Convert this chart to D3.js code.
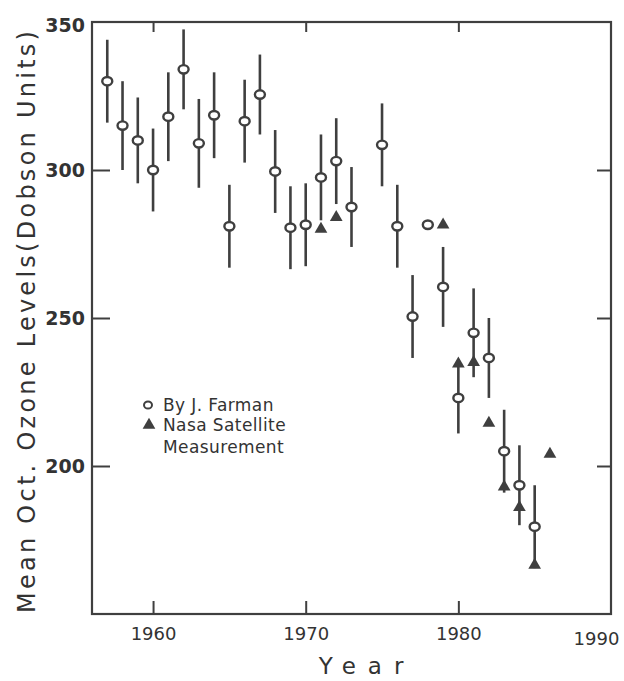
<!DOCTYPE html>
<html>
<head>
<meta charset="utf-8">
<script src="https://cdn.jsdelivr.net/npm/d3@7"></script>
<style>
  body { margin: 0; background: #fff; }
  text { font-family: "DejaVu Sans", sans-serif; }
</style>
</head>
<body>
<div id="chart"></div>
<script>
// Farman ground measurements (circle + error bar)
const farmanYears  = [1957, 1958, 1959, 1960, 1961, 1962, 1963, 1964, 1965, 1966, 1967, 1968, 1969, 1970, 1971, 1972, 1973, 1975, 1976, 1977, 1978, 1979, 1980, 1981, 1982, 1983, 1984, 1985]
const farmanValues = [330, 315, 310, 300, 318, 334, 309, 318.5, 281, 316.5, 325.5, 299.5, 280.5, 281.5, 297.5, 303, 287.5, 308.5, 281, 250.5, 281.5, 260.5, 223, 245, 236.5, 205, 193.5, 179.5]
const farmanErrors = [14, 15, 14.5, 14, 15, 13.5, 15, 14.5, 14, 14, 13.5, 14, 14, 14, 14.5, 14.5, 13.5, 14, 14, 14, 0, 13.5, 12, 15, 13.5, 14, 13.5, 14]

// NASA satellite measurements (triangles)
const nasaYears  = [1971, 1972, 1979, 1980, 1981, 1982, 1983, 1984, 1985, 1986]
const nasaValues = [280, 284, 281.5, 234.5, 235, 214.5, 193, 186, 166.5, 204]

// tick labels
const xTicks = [1960, 1970, 1980, 1990]
const yTicks = [200, 250, 300, 350]

const width = 624
const height = 681
const ink = "#3f3f3f"

// plot box
const plotL = 92, plotR = 611, plotT = 22, plotB = 614

const x = d3.scaleLinear().domain([1956, 1990]).range([plotL, plotR])
const y = d3.scaleLinear().domain([150, 350]).range([plotB, plotT])

const svg = d3.select("#chart")
  .append("svg")
  .attr("width", width)
  .attr("height", height)

svg.append("rect").attr("width", width).attr("height", height).attr("fill", "#fff")

// frame
svg.append("rect")
  .attr("x", plotL).attr("y", plotT)
  .attr("width", plotR - plotL).attr("height", plotB - plotT)
  .attr("fill", "none").attr("stroke", ink).attr("stroke-width", 2.2)

// axes, ticks pointing inward on every side
const yAxis = svg.append("g")
  .attr("transform", `translate(${plotL},0)`)
  .call(d3.axisLeft(y).tickValues(yTicks).tickSize(-18).tickPadding(7).tickFormat(d3.format("d")))
yAxis.select(".domain").remove()
yAxis.selectAll("line").attr("stroke-width", 2)
yAxis.selectAll("text").attr("font-size", 19).attr("font-weight", "bold").attr("fill", "#333")
yAxis.selectAll(".tick").filter(d => d === 350).select("line").remove()
yAxis.selectAll(".tick").filter(d => d === 350).select("text").attr("dy", "0.5em")

const yAxisR = svg.append("g")
  .attr("transform", `translate(${plotR},0)`)
  .call(d3.axisRight(y).tickValues([200, 250, 300]).tickSize(-14).tickFormat(""))
yAxisR.select(".domain").remove()
yAxisR.selectAll("line").attr("stroke-width", 2)

const xAxis = svg.append("g")
  .attr("transform", `translate(0,${plotB})`)
  .call(d3.axisBottom(x).tickValues(xTicks).tickSize(-13).tickPadding(13).tickFormat(d3.format("d")))
xAxis.select(".domain").remove()
xAxis.selectAll("line").attr("stroke-width", 2)
xAxis.selectAll("text").attr("font-size", 18).attr("fill", "#333")
const lastTick = xAxis.selectAll(".tick").filter(d => d === 1990)
lastTick.select("line").remove()
lastTick.select("text").attr("x", -15).attr("y", 18)

const xAxisT = svg.append("g")
  .attr("transform", `translate(0,${plotT})`)
  .call(d3.axisTop(x).tickValues([1960, 1970, 1980]).tickSize(-10).tickFormat(""))
xAxisT.select(".domain").remove()
xAxisT.selectAll("line").attr("stroke-width", 2)

svg.selectAll(".tick line").attr("stroke", ink)

// axis titles
svg.append("text")
  .attr("transform", `translate(35,${(plotT + plotB) / 2 + 4}) rotate(-90)`)
  .attr("text-anchor", "middle")
  .attr("font-size", 24)
  .attr("fill", "#333")
  .attr("textLength", 582)
  .attr("lengthAdjust", "spacing")
  .text("Mean Oct. Ozone Levels(Dobson Units)")

svg.append("text")
  .attr("x", 367).attr("y", 674)
  .attr("text-anchor", "middle")
  .attr("font-size", 23)
  .attr("letter-spacing", 12)
  .attr("fill", "#333")
  .text("Year")

// data
const farman = farmanYears.map((yr, i) => ({year: yr, value: farmanValues[i], err: farmanErrors[i]}))
const nasa = nasaYears.map((yr, i) => ({year: yr, value: nasaValues[i]}))

svg.append("g").selectAll("line")
  .data(farman.filter(d => d.err > 0))
  .enter()
  .append("line")
  .attr("x1", d => x(d.year)).attr("x2", d => x(d.year))
  .attr("y1", d => y(d.value + d.err)).attr("y2", d => y(d.value - d.err))
  .attr("stroke", ink).attr("stroke-width", 2.6)

const tri = d3.symbol().type(d3.symbolTriangle).size(70)

svg.append("g").selectAll("path")
  .data(nasa)
  .enter()
  .append("path")
  .attr("d", tri)
  .attr("transform", d => `translate(${x(d.year)},${y(d.value)})`)
  .attr("fill", ink)

svg.append("g").selectAll("ellipse")
  .data(farman)
  .enter()
  .append("ellipse")
  .attr("cx", d => x(d.year)).attr("cy", d => y(d.value))
  .attr("rx", 5).attr("ry", 4.2)
  .attr("fill", "#fff").attr("stroke", ink).attr("stroke-width", 2.4)

// legend
const legend = svg.append("g").attr("font-size", 17).attr("fill", "#333").attr("letter-spacing", 0.4)
legend.append("ellipse").attr("cx", 148).attr("cy", 405).attr("rx", 4).attr("ry", 3.6)
  .attr("fill", "#fff").attr("stroke", ink).attr("stroke-width", 2)
legend.append("path").attr("d", tri).attr("transform", "translate(149,425)").attr("fill", ink)
legend.append("text").attr("x", 163).attr("y", 411).text("By J. Farman")
legend.append("text").attr("x", 163).attr("y", 431).text("Nasa Satellite")
legend.append("text").attr("x", 163).attr("y", 453).text("Measurement")
</script>
</body>
</html>
